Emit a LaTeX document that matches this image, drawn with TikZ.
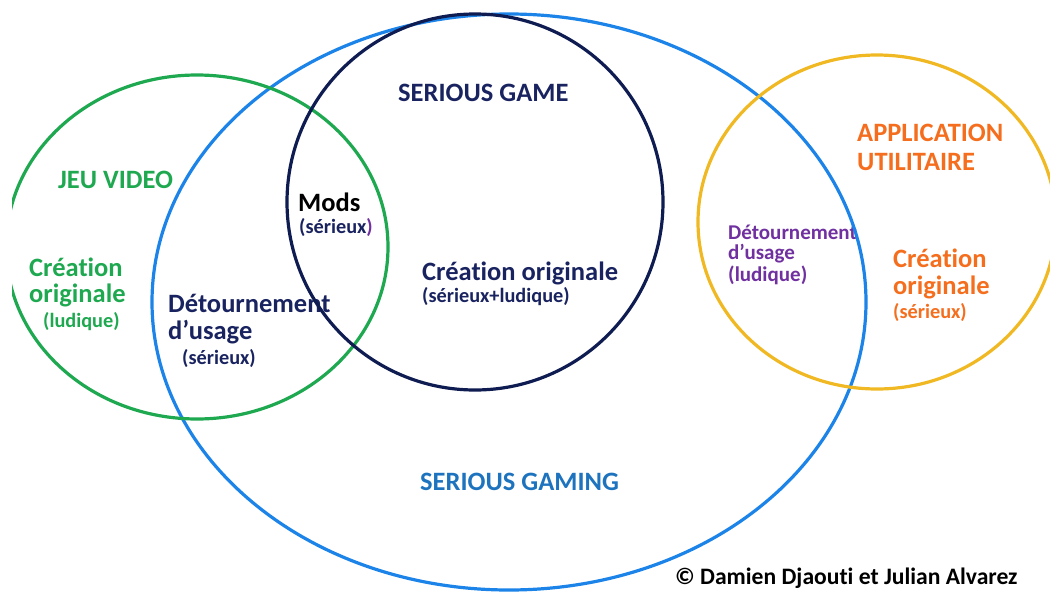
\documentclass[tikz,border=0pt]{standalone}
\usepackage{fontspec}
\setmainfont[Ligatures=NoCommon]{Carlito}
\definecolor{jvgreen}{RGB}{30,168,80}
\definecolor{sgblue}{RGB}{28,132,232}
\definecolor{sgnavy}{RGB}{14,28,82}
\definecolor{auyellow}{RGB}{240,185,35}
\definecolor{navytext}{RGB}{25,35,95}
\definecolor{gamingtext}{RGB}{30,115,190}
\definecolor{purpletext}{RGB}{112,48,160}
\definecolor{orangetext}{RGB}{245,110,30}
\tikzset{
  lbl/.style={anchor=west, inner sep=0pt},
  biglbl/.style={lbl, font=\fontsize{26.5}{31}\selectfont\bfseries},
  smalllbl/.style={lbl, font=\fontsize{20.3}{24}\selectfont\bfseries},
  ring/.style={line width=3.2pt}
}

\begin{document}
\begin{tikzpicture}[x=1pt, y=-1pt]
\useasboundingbox (0,0) rectangle (1050,592);
\node [biglbl, text=jvgreen] (jeu) at (58,180) {JEU VIDEO};
\node [biglbl, text=jvgreen] (jeucrea) at (29,267) {Création};
\node [biglbl, text=jvgreen] (jeuorig) at (29,295) {originale};
\node [smalllbl, text=jvgreen] (jeulud) at (43,322) {(ludique)};
\node [biglbl, text=black] (mods) at (298,202) {Mods};
\node [smalllbl, text=navytext] (modsser) at (299,227) {(sérieux\textcolor{purpletext}{)}};
\node [biglbl, text=navytext] (detour) at (168,303) {Détournement};
\node [biglbl, text=navytext] (detusage) at (168,332) {d’usage};
\node [smalllbl, text=navytext] (detser) at (182,358) {(sérieux)};
\node [biglbl, text=navytext] (sgame) at (398,93) {SERIOUS GAME};
\node [biglbl, text=navytext] (sgcrea) at (422,273) {Création originale};
\node [smalllbl, text=navytext] (sgmix) at (422,297) {(sérieux+ludique)};
\node [smalllbl, text=purpletext, font=\fontsize{21}{25}\selectfont\bfseries] (appdet) at (728,232) {Détournement};
\node [smalllbl, text=purpletext, font=\fontsize{21}{25}\selectfont\bfseries] (appusage) at (728,254) {d’usage};
\node [smalllbl, text=purpletext, font=\fontsize{21}{25}\selectfont\bfseries] (applud) at (728,275) {(ludique)};
\node [biglbl, text=orangetext] (app) at (857,133) {APPLICATION};
\node [biglbl, text=orangetext] (util) at (857,162) {UTILITAIRE};
\node [biglbl, text=orangetext] (appcrea) at (893,258) {Création};
\node [biglbl, text=orangetext] (apporig) at (893,287) {originale};
\node [smalllbl, text=orangetext] (appser) at (893,312) {(sérieux)};
\node [biglbl, text=gamingtext] (sgaming) at (420,482) {SERIOUS GAMING};
\node [lbl, font=\fontsize{23.6}{28}\selectfont\bfseries] (copy) at (675,578) {© Damien Djaouti et Julian Alvarez};
\draw [ring, sgblue] (509,302) ellipse [x radius=357pt, y radius=288pt];
\begin{scope}
\clip (12,0) rectangle (1050,592);
\draw [ring, jvgreen] (197,247) ellipse [x radius=191pt, y radius=172pt];
\end{scope}
\draw [ring, sgnavy] (475,202) circle [radius=188pt];
\draw [ring, auyellow] (877,222) ellipse [x radius=179pt, y radius=167pt];
\end{tikzpicture}
\end{document}
